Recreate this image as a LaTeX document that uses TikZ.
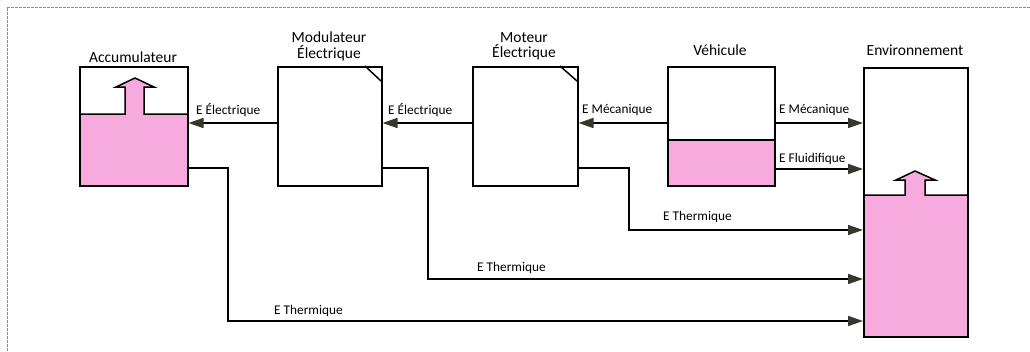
\documentclass[tikz,border=0pt]{standalone}
\usepackage{fontspec}
\setmainfont{Carlito}
\usetikzlibrary{arrows.meta}
\definecolor{pinkc}{RGB}{247,170,221}
\definecolor{tipc}{RGB}{55,55,45}
\tikzset{
  box/.style={draw=black, line width=1.5pt, inner sep=0pt, anchor=north west},
  title/.style={font=\fontsize{15.5}{17}\selectfont, inner sep=0pt, align=center},
  lbl/.style={font=\fontsize{13.3}{15}\selectfont, inner sep=0pt, anchor=west},
  conn/.style={line width=1.6pt, draw=black, -{Triangle[length=15pt,width=10pt,fill=tipc,color=tipc]}},
  outl/.style={line width=1.5pt, draw=black},
  frameline/.style={draw=black!45, line width=0.8pt, dash pattern=on 3pt off 1pt}
}
\begin{document}
\begin{tikzpicture}[x=1pt,y=-1pt]
\useasboundingbox (0,0) rectangle (1030,351);
% frame
\draw[frameline] (7,351) -- (7,7) -- (1030,7);

% pink fills
\fill[pinkc] (79,114) rectangle (187,185);
\fill[pinkc] (667,140) rectangle (774,185);
\fill[pinkc] (863,195) rectangle (967,336);
\fill[pinkc] (125,115) -- (125,87) -- (116,87) -- (135,78) -- (154,87) -- (144,87) -- (144,115) -- cycle;
\fill[pinkc] (905,196) -- (905,180) -- (896,180) -- (915,171) -- (935,180) -- (925,180) -- (925,196) -- cycle;

% boxes
\node[box, minimum width=108pt, minimum height=119pt] (acc) at (79,66) {};
\node[box, minimum width=104pt, minimum height=119pt] (mod) at (277,66) {};
\node[box, minimum width=105pt, minimum height=119pt] (mot) at (472,66) {};
\node[box, minimum width=107pt, minimum height=119pt] (veh) at (667,66) {};
\node[box, minimum width=104pt, minimum height=269pt] (env) at (863,67) {};

% level lines and arrows inside
\draw[outl] (79,114) -- (125,114) -- (125,87) -- (116,87) -- (135,78) -- (154,87) -- (144,87) -- (144,114) -- (187,114);
\draw[outl] (667,140) -- (774,140);
\draw[outl] (863,195) -- (905,195) -- (905,180) -- (896,180) -- (915,171) -- (935,180) -- (925,180) -- (925,195) -- (967,195);

% corner marks
\draw[outl] (365,66) -- (381,81);
\draw[outl] (560,66) -- (577,81);

% titles
\node[title] (tacc) at (133,57) {Accumulateur};
\node[title] (tmod) at (329,46.5) {Modulateur\\[-1.5pt]Électrique};
\node[title] (tmot) at (524,46.5) {Moteur\\[-1.5pt]Électrique};
\node[title] (tveh) at (720,50) {Véhicule};
\node[title] (tenv) at (915,50) {Environnement};

% connectors
\draw[conn] (mod.west |- 0,123) -- (acc.east |- 0,123);
\draw[conn] (mot.west |- 0,123) -- (mod.east |- 0,123);
\draw[conn] (veh.west |- 0,123) -- (mot.east |- 0,123);
\draw[conn] (veh.east |- 0,123) -- (env.west |- 0,123);
\draw[conn] (veh.east |- 0,169) -- (env.west |- 0,169);
\draw[conn] (mot.east |- 0,168) -- (629,168) -- (629,230) -- (env.west |- 0,230);
\draw[conn] (mod.east |- 0,168) -- (428,168) -- (428,279) -- (env.west |- 0,279);
\draw[conn] (acc.east |- 0,168) -- (228,168) -- (228,321) -- (env.west |- 0,321);

% connector labels
\node[lbl] (l1) at (196,110) {E Électrique};
\node[lbl] (l2) at (388,110) {E Électrique};
\node[lbl] (l3) at (582,110) {E Mécanique};
\node[lbl] (l4) at (779,110) {E Mécanique};
\node[lbl] (l5) at (779,159) {E Fluidifique};
\node[lbl] (l6) at (663,217) {E Thermique};
\node[lbl] (l7) at (477,268) {E Thermique};
\node[lbl] (l8) at (274,311) {E Thermique};
\end{tikzpicture}
\end{document}
